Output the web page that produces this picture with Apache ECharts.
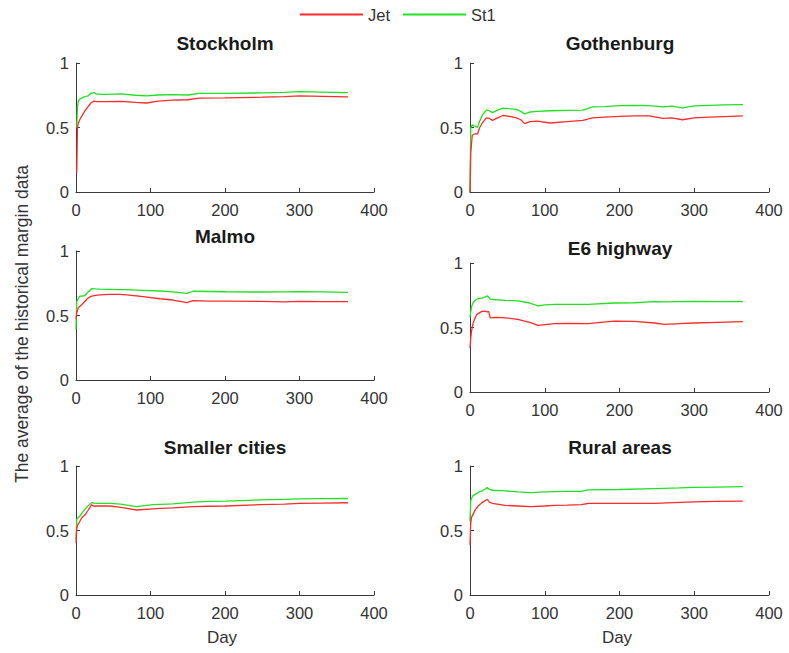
<!DOCTYPE html>
<html>
<head>
<meta charset="utf-8">
<script src="https://cdn.jsdelivr.net/npm/echarts@6/dist/echarts.min.js"></script>
<style>
html,body{margin:0;padding:0;background:#fff;}
#chart{width:789px;height:653px;}
</style>
</head>
<body>
<div id="chart"></div>
<script>
// ---- data ----
const seriesNames = ['Jet', 'St1'];
const plotTitles = ['Stockholm', 'Gothenburg', 'Malmo', 'E6 highway', 'Smaller cities', 'Rural areas'];
const xTicks = [0, 100, 200, 300, 400];
const yTicks = [0, 0.5, 1];

const stockholmDays = [1, 2, 3, 5, 8, 12, 16, 20, 24, 28, 40, 60, 80, 95, 110, 130, 150, 165, 200, 250, 280, 300, 330, 365];
const stockholmJet  = [0.15, 0.50, 0.53, 0.56, 0.59, 0.63, 0.66, 0.69, 0.705, 0.70, 0.70, 0.703, 0.695, 0.69, 0.705, 0.712, 0.715, 0.728, 0.73, 0.735, 0.74, 0.745, 0.742, 0.738];
const stockholmSt1  = [0.50, 0.66, 0.70, 0.72, 0.73, 0.74, 0.745, 0.765, 0.77, 0.758, 0.757, 0.76, 0.75, 0.745, 0.752, 0.755, 0.752, 0.765, 0.765, 0.768, 0.772, 0.778, 0.775, 0.77];

const gothenburgDays = [0, 1, 3, 6, 10, 13, 17, 22, 26, 30, 37, 44, 55, 62, 68, 73, 80, 90, 107, 130, 151, 164, 180, 200, 220, 240, 258, 270, 284, 300, 320, 340, 365];
const gothenburgJet  = [0.0, 0.30, 0.44, 0.45, 0.45, 0.50, 0.54, 0.575, 0.57, 0.555, 0.575, 0.593, 0.585, 0.574, 0.56, 0.53, 0.545, 0.55, 0.535, 0.545, 0.556, 0.574, 0.58, 0.587, 0.59, 0.59, 0.57, 0.575, 0.56, 0.575, 0.58, 0.585, 0.59];
const gothenburgSt1  = [0.0, 0.50, 0.52, 0.51, 0.50, 0.55, 0.60, 0.635, 0.63, 0.615, 0.635, 0.65, 0.645, 0.64, 0.625, 0.605, 0.62, 0.625, 0.63, 0.632, 0.634, 0.66, 0.662, 0.67, 0.672, 0.67, 0.66, 0.665, 0.652, 0.668, 0.672, 0.675, 0.678];

const malmoDays = [0, 1, 3, 5, 8, 12, 16, 21, 26, 32, 45, 59, 68, 90, 113, 130, 149, 157, 180, 202, 247, 280, 300, 330, 365];
const malmoJet  = [0.47, 0.52, 0.56, 0.57, 0.585, 0.61, 0.635, 0.65, 0.656, 0.66, 0.664, 0.664, 0.66, 0.646, 0.63, 0.62, 0.60, 0.615, 0.612, 0.612, 0.609, 0.605, 0.61, 0.608, 0.608];
const malmoSt1  = [0.39, 0.61, 0.63, 0.65, 0.65, 0.655, 0.68, 0.708, 0.706, 0.704, 0.703, 0.70, 0.70, 0.695, 0.69, 0.683, 0.672, 0.688, 0.686, 0.684, 0.682, 0.683, 0.685, 0.683, 0.68];

const e6Days = [0, 1, 2, 4, 6, 9, 13, 16, 20, 23, 25, 27, 35, 47, 64, 80, 91, 100, 113, 130, 158, 193, 220, 247, 260, 280, 300, 330, 365];
const e6Jet  = [0.34, 0.42, 0.47, 0.53, 0.5625, 0.60, 0.615, 0.625, 0.627, 0.62, 0.625, 0.575, 0.578, 0.575, 0.5625, 0.54, 0.516, 0.522, 0.53, 0.532, 0.53, 0.55, 0.547, 0.535, 0.525, 0.53, 0.535, 0.54, 0.545];
const e6St1  = [0.58, 0.62, 0.66, 0.69, 0.705, 0.72, 0.725, 0.727, 0.735, 0.745, 0.735, 0.72, 0.715, 0.711, 0.706, 0.69, 0.667, 0.675, 0.68, 0.68, 0.68, 0.69, 0.692, 0.70, 0.698, 0.70, 0.702, 0.70, 0.70];

const smallerDays = [0, 1, 2, 5, 8, 12, 16, 21, 24, 28, 46, 60, 81, 103, 113, 130, 157, 180, 200, 247, 280, 300, 330, 365];
const smallerJet  = [0.40, 0.51, 0.54, 0.57, 0.60, 0.62, 0.655, 0.70, 0.688, 0.69, 0.69, 0.68, 0.659, 0.668, 0.672, 0.675, 0.685, 0.688, 0.69, 0.70, 0.705, 0.71, 0.712, 0.715];
const smallerSt1  = [0.43, 0.586, 0.595, 0.61, 0.635, 0.664, 0.69, 0.716, 0.712, 0.71, 0.71, 0.705, 0.685, 0.70, 0.703, 0.706, 0.72, 0.725, 0.728, 0.737, 0.742, 0.745, 0.747, 0.748];

const ruralDays = [0, 1, 2, 4, 7, 11, 16, 20, 23, 26, 30, 47, 64, 82, 100, 113, 130, 149, 158, 200, 247, 280, 300, 330, 365];
const ruralJet  = [0.39, 0.56, 0.60, 0.625, 0.66, 0.69, 0.716, 0.73, 0.742, 0.72, 0.711, 0.695, 0.69, 0.685, 0.69, 0.695, 0.697, 0.70, 0.711, 0.71, 0.711, 0.718, 0.722, 0.725, 0.727];
const ruralSt1  = [0.573, 0.73, 0.75, 0.77, 0.78, 0.795, 0.807, 0.82, 0.833, 0.818, 0.812, 0.807, 0.80, 0.794, 0.80, 0.802, 0.803, 0.804, 0.815, 0.818, 0.825, 0.83, 0.834, 0.837, 0.84];

const plotDays = [stockholmDays, gothenburgDays, malmoDays, e6Days, smallerDays, ruralDays];
const plotJet  = [stockholmJet, gothenburgJet, malmoJet, e6Jet, smallerJet, ruralJet];
const plotSt1  = [stockholmSt1, gothenburgSt1, malmoSt1, e6St1, smallerSt1, ruralSt1];

// ---- layout ----
const grids = [
  {left: 76,  top: 63,  width: 298, height: 129},
  {left: 470, top: 63,  width: 299, height: 129},
  {left: 76,  top: 251, width: 298, height: 129},
  {left: 470, top: 263, width: 299, height: 129},
  {left: 76,  top: 466, width: 298, height: 129},
  {left: 470, top: 466, width: 299, height: 129}
];
const titlePos = [[225, 43], [620, 43], [225, 236], [620, 248], [225, 447], [620, 447]];
const FONT = "Arial, 'Liberation Sans', Helvetica, sans-serif";
const axisColor = '#3a3a3a';
const textColor = '#333333';
const colors = ['#ff2a2a', '#22e022'];

const xAxes = [], yAxes = [], series = [], graphics = [];
grids.forEach((g, i) => {
  xAxes.push({
    type: 'value', gridIndex: i, min: xTicks[0], max: xTicks[xTicks.length - 1], interval: 100,
    axisLine: {show: true, onZero: false, lineStyle: {color: axisColor, width: 1}},
    axisTick: {show: true, inside: true, length: 4, lineStyle: {color: axisColor}},
    axisLabel: {show: true, margin: 9, color: textColor, fontSize: 16.5, fontFamily: FONT},
    splitLine: {show: false}
  });
  yAxes.push({
    type: 'value', gridIndex: i, min: yTicks[0], max: yTicks[yTicks.length - 1], interval: 0.5,
    axisLine: {show: true, onZero: false, lineStyle: {color: axisColor, width: 1}},
    axisTick: {show: true, inside: true, length: 4, lineStyle: {color: axisColor}},
    axisLabel: {show: true, margin: 7, color: textColor, fontSize: 16.5, fontFamily: FONT},
    splitLine: {show: false}
  });
  const days = plotDays[i];
  [plotJet[i], plotSt1[i]].forEach((vals, k) => {
    series.push({
      name: seriesNames[k], type: 'line', xAxisIndex: i, yAxisIndex: i,
      data: days.map((d, j) => [d, vals[j]]),
      showSymbol: false, symbol: 'none', animation: false,
      lineStyle: {color: colors[k], width: 1.3}, itemStyle: {color: colors[k]},
      z: k === 0 ? 3 : 2
    });
  });
  graphics.push({
    type: 'text', x: titlePos[i][0], y: titlePos[i][1],
    style: {text: plotTitles[i], font: "bold 19px " + FONT, fill: '#1a1a1a',
            textAlign: 'center', textVerticalAlign: 'middle', align: 'center', verticalAlign: 'middle'}
  });
});
graphics.push({
  type: 'text', x: 22, y: 324, rotation: Math.PI / 2,
  style: {text: 'The average of the historical margin data', font: "17.5px " + FONT, fill: textColor,
          textAlign: 'center', textVerticalAlign: 'middle', align: 'center', verticalAlign: 'middle'}
});
[[222, 637], [617, 637]].forEach(p => graphics.push({
  type: 'text', x: p[0], y: p[1],
  style: {text: 'Day', font: "17px " + FONT, fill: textColor,
          textAlign: 'center', textVerticalAlign: 'middle', align: 'center', verticalAlign: 'middle'}
}));

const chart = echarts.init(document.getElementById('chart'), null, {renderer: 'svg'});
chart.setOption({
  backgroundColor: '#ffffff',
  animation: false,
  legend: {
    data: seriesNames, left: 300, top: 6, padding: 0, icon: 'rect', itemWidth: 63, itemHeight: 2, itemGap: 13,
    textStyle: {color: textColor, fontSize: 16.5, fontFamily: FONT, padding: [0, 0, 0, 0]}
  },
  grid: grids,
  xAxis: xAxes,
  yAxis: yAxes,
  series: series,
  graphic: graphics
});
</script>
</body>
</html>
